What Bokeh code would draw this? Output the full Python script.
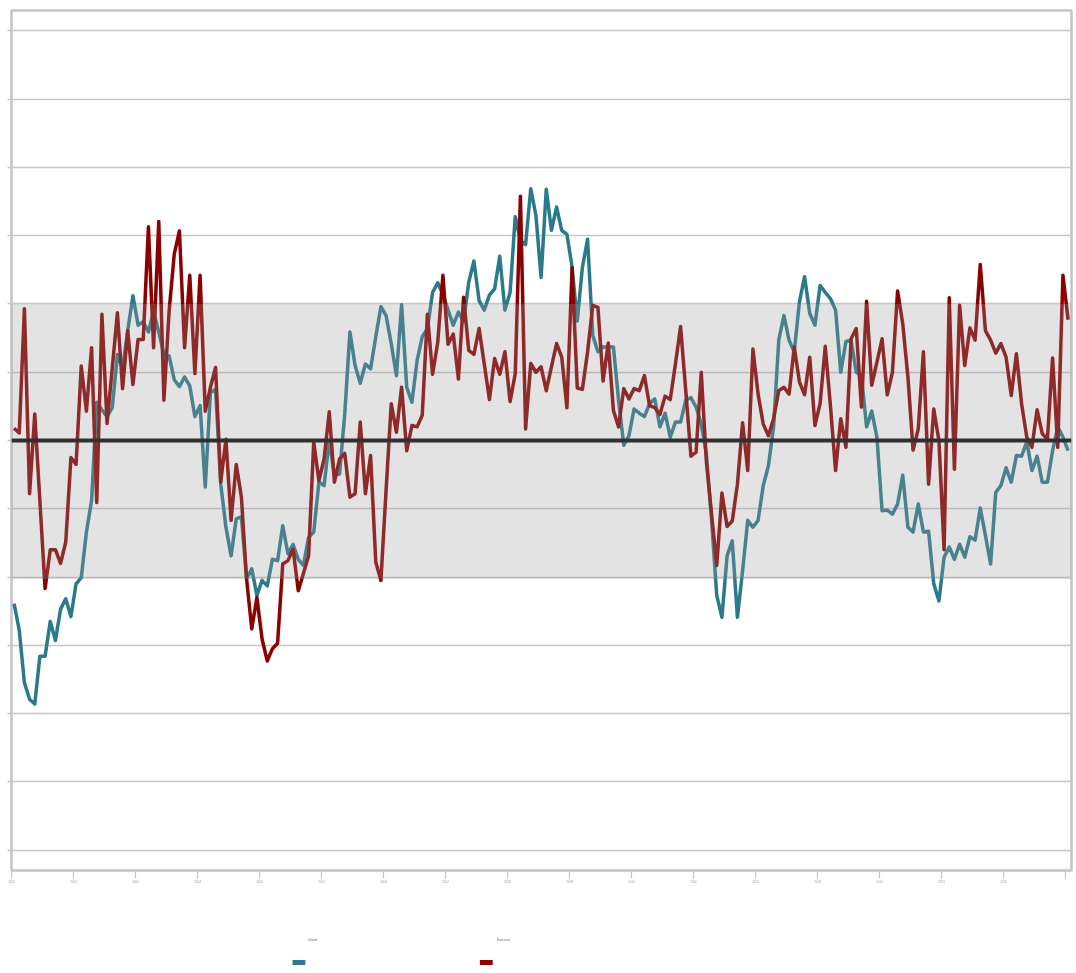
from bokeh.plotting import figure
from bokeh.models import (Range1d, BoxAnnotation, Span, FixedTicker, CustomJSTickFormatter,
                          ColumnDataSource)
from bokeh.layouts import column
from bokeh.embed import file_html
from bokeh.resources import INLINE
from bokeh.core.properties import value

# ---------------- data (monthly, standardised values) ----------------
series_a_name = "Ireland"
series_b_name = "Euro area"

series_a = [
    -2.39, -2.78, -3.55, -3.79, -3.86, -3.16, -3.16, -2.65, -2.93, -2.47,
    -2.32, -2.58, -2.10, -2.01, -1.34, -0.88, 0.56, 0.45, 0.35, 0.48,
    1.26, 1.06, 1.61, 2.12, 1.69, 1.74, 1.59, 1.89, 1.59, 1.26,
    1.24, 0.89, 0.79, 0.93, 0.80, 0.35, 0.51, -0.68, 0.70, 0.75,
    -0.64, -1.27, -1.69, -1.15, -1.12, -2.03, -1.88, -2.27, -2.05, -2.13,
    -1.74, -1.76, -1.25, -1.66, -1.52, -1.74, -1.83, -1.42, -1.34, -0.61,
    -0.66, 0.00, -0.51, -0.49, 0.39, 1.59, 1.10, 0.84, 1.12, 1.05,
    1.52, 1.96, 1.83, 1.42, 0.95, 1.99, 0.78, 0.56, 1.17, 1.52,
    1.64, 2.17, 2.31, 2.14, 1.91, 1.69, 1.88, 1.74, 2.32, 2.63,
    2.05, 1.91, 2.13, 2.22, 2.70, 1.91, 2.17, 3.28, 2.93, 2.87,
    3.69, 3.30, 2.39, 3.68, 3.08, 3.42, 3.08, 3.02, 2.54, 1.75,
    2.54, 2.95, 1.54, 1.30, 1.37, 1.37, 1.37, 0.59, -0.07, 0.07,
    0.46, 0.40, 0.35, 0.54, 0.61, 0.20, 0.40, 0.05, 0.27, 0.27,
    0.59, 0.63, 0.49, 0.24, -0.20, -1.17, -2.27, -2.59, -1.69, -1.47,
    -2.59, -1.91, -1.17, -1.27, -1.17, -0.66, -0.37, 0.20, 1.47, 1.83,
    1.47, 1.30, 2.03, 2.40, 1.86, 1.69, 2.27, 2.17, 2.08, 1.91,
    1.00, 1.45, 1.47, 1.00, 0.95, 0.20, 0.43, 0.05, -1.03, -1.02,
    -1.08, -0.93, -0.51, -1.27, -1.34, -0.93, -1.34, -1.33, -2.10, -2.35,
    -1.71, -1.56, -1.74, -1.52, -1.71, -1.41, -1.46, -0.99, -1.39, -1.81,
    -0.76, -0.66, -0.40, -0.61, -0.22, -0.23, -0.02, -0.44, -0.23, -0.61,
    -0.61, -0.15, 0.20, 0.05, -0.15,
]

series_b = [
    0.18, 0.11, 1.93, -0.78, 0.39, -0.89, -2.17, -1.60, -1.60, -1.80,
    -1.49, -0.25, -0.35, 1.09, 0.43, 1.36, -0.91, 1.85, 0.25, 1.06,
    1.87, 0.76, 1.61, 0.82, 1.48, 1.48, 3.13, 1.36, 3.21, 0.59,
    1.89, 2.73, 3.07, 1.36, 2.42, 0.98, 2.42, 0.43, 0.78, 1.07,
    -0.61, 0.02, -1.17, -0.35, -0.83, -2.03, -2.76, -2.30, -2.91, -3.23,
    -3.05, -2.97, -1.81, -1.76, -1.59, -2.20, -1.95, -1.69, -0.02, -0.59,
    -0.27, 0.42, -0.61, -0.27, -0.19, -0.83, -0.78, 0.27, -0.78, -0.22,
    -1.78, -2.05, -0.73, 0.54, 0.12, 0.78, -0.15, 0.22, 0.20, 0.37,
    1.85, 0.97, 1.44, 2.42, 1.41, 1.56, 0.90, 2.10, 1.32, 1.26,
    1.64, 1.12, 0.60, 1.20, 0.97, 1.30, 0.57, 0.98, 3.58, 0.17,
    1.13, 1.00, 1.08, 0.73, 1.08, 1.42, 1.22, 0.48, 2.53, 0.77,
    0.75, 1.30, 1.98, 1.95, 0.87, 1.43, 0.44, 0.20, 0.76, 0.61,
    0.76, 0.73, 0.95, 0.51, 0.48, 0.38, 0.65, 0.60, 1.12, 1.67,
    0.73, -0.23, -0.17, 1.00, -0.32, -1.08, -1.83, -0.77, -1.26, -1.18,
    -0.64, 0.26, -0.44, 1.34, 0.68, 0.24, 0.07, 0.32, 0.73, 0.78,
    0.68, 1.37, 0.86, 0.67, 1.22, 0.22, 0.54, 1.38, 0.51, -0.44,
    0.32, -0.10, 1.49, 1.64, 0.49, 2.04, 0.81, 1.15, 1.49, 0.67,
    1.00, 2.19, 1.71, 0.93, -0.14, 0.17, 1.30, -0.64, 0.46, 0.00,
    -1.60, 2.09, -0.42, 1.98, 1.10, 1.65, 1.47, 2.58, 1.61, 1.47,
    1.28, 1.42, 1.22, 0.66, 1.27, 0.54, 0.05, -0.10, 0.45, 0.10,
    0.02, 1.21, -0.10, 2.42, 1.77,
]

# month positions (mid-month, months since start)
months = [i + 0.5 for i in range(len(series_a))]

year_labels = ["2000", "2001", "2002", "2003", "2004", "2005", "2006", "2007", "2008",
               "2009", "2010", "2011", "2012", "2013", "2014", "2015", "2016", ""]
year_ticks = [12 * k for k in range(len(year_labels))]
y_ticks = [-6, -5, -4, -3, -2, -1, 0, 1, 2, 3, 4, 5, 6]

band_low, band_high = -2.03, 2.0

TEAL = "#2b7a8b"
RED = "#8b0000"

# ---------------- main figure ----------------
p = figure(frame_width=1060, frame_height=860,
           x_range=Range1d(0, 205.16), y_range=Range1d(-6.3, 6.3),
           output_backend="svg", toolbar_location=None,
           min_border_left=11, min_border_right=4, min_border_top=10, min_border_bottom=18,
           background_fill_color="white", border_fill_color="white")

p.outline_line_color = "#c4c4c4"
p.outline_line_width = 2.5

p.xgrid.visible = False
p.ygrid.ticker = FixedTicker(ticks=y_ticks)
p.ygrid.grid_line_color = "#c6c6c6"
p.ygrid.grid_line_width = 1.5

p.yaxis.ticker = FixedTicker(ticks=y_ticks)
p.yaxis.formatter = CustomJSTickFormatter(code="return ''")
p.yaxis.axis_line_color = None
p.yaxis.major_tick_line_color = "#c4c4c4"
p.yaxis.major_tick_line_width = 1.5
p.yaxis.major_tick_out = 4
p.yaxis.major_tick_in = 0
p.yaxis.minor_tick_line_color = None
p.yaxis.major_label_standoff = 0

p.xaxis.ticker = FixedTicker(ticks=year_ticks)
p.xaxis.major_label_overrides = {t: l for t, l in zip(year_ticks, year_labels)}
p.xaxis.axis_line_color = None
p.xaxis.major_tick_line_color = "#c4c4c4"
p.xaxis.major_tick_line_width = 1.2
p.xaxis.major_tick_out = 8
p.xaxis.major_tick_in = 0
p.xaxis.minor_tick_line_color = None
p.xaxis.major_label_standoff = 1
p.xaxis.major_label_text_font_size = "3px"
p.xaxis.major_label_text_color = "#999999"
p.xaxis.major_label_text_align = "left"

src = ColumnDataSource(dict(x=months, a=series_a, b=series_b))
p.line("x", "a", source=src, line_color=TEAL, line_width=3.5, line_join="round")
p.line("x", "b", source=src, line_color=RED, line_width=3.5, line_join="round")

band = BoxAnnotation(bottom=band_low, top=band_high, fill_color="#999999",
                     fill_alpha=0.2745, line_color=None)
p.add_layout(band)
p.add_layout(Span(location=0, dimension="width", line_color="#303030", line_width=4))

# ---------------- legend strip ----------------
lg = figure(width=1075, height=80, x_range=Range1d(0, 1075), y_range=Range1d(80, 0),
            output_backend="svg", toolbar_location=None,
            min_border=0, outline_line_color=None)
lg.axis.visible = False
lg.grid.visible = False
lg.segment(x0=[285, 475], y0=[74, 74], x1=[298, 488], y1=[74, 74],
           line_color=[TEAL, RED], line_width=5)
lg.text(x=[305, 499], y=[51, 51], text=[series_a_name, series_b_name],
        text_font_size=value("3px"), text_color="#666666",
        text_align="center", text_baseline="middle")

layout = column(p, lg, spacing=0)
open("out.html", "w").write(file_html(layout, INLINE))
